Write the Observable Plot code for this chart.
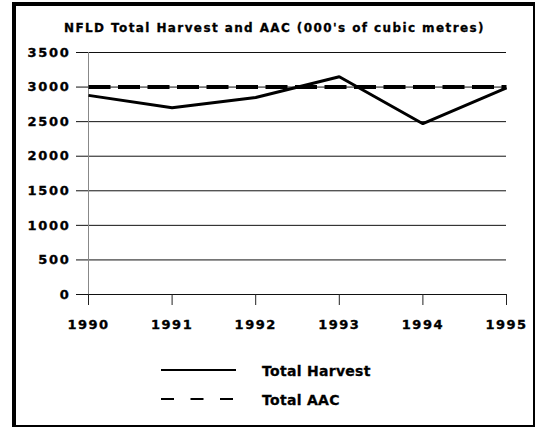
<!DOCTYPE html>
<html>
<head>
<meta charset="utf-8">
<script src="https://cdn.jsdelivr.net/npm/d3@7"></script>
<script src="https://cdn.jsdelivr.net/npm/@observablehq/plot@0.6"></script>
<style>
  html, body { margin: 0; padding: 0; background: #fff; }
  #wrap { position: relative; width: 536px; height: 427px; overflow: hidden; font-family: "DejaVu Sans", sans-serif; font-weight: bold; }
  #frame { position: absolute; left: 12px; top: 2px; width: 523px; height: 425px; box-sizing: border-box;
           border-left: 4px solid #000; border-top: 4px solid #000; border-right: 2px solid #000; border-bottom: 2px solid #000; pointer-events: none; z-index: 5; }
  #title { position: absolute; left: 64px; top: 22px; font-size: 12px; line-height: 13px; letter-spacing: 1.4px; white-space: nowrap; color: #000; -webkit-text-stroke: 0.3px #000; }
  #chart { position: absolute; left: 0; top: 0; }
  #legend { position: absolute; left: 0; top: 0; }
  g[aria-label="y-axis tick label"] text { letter-spacing: 1.7px; stroke: #000; stroke-width: 0.35px; }
  g[aria-label="x-axis tick label"] text { letter-spacing: 1.5px; stroke: #000; stroke-width: 0.35px; }
  #legend text { stroke: #000; stroke-width: 0.3px; }
</style>
</head>
<body>
<div id="wrap">
  <div id="chart"></div>
  <div id="title">NFLD Total Harvest and AAC (000's of cubic metres)</div>
  <svg id="legend" width="536" height="427"></svg>
  <div id="frame"></div>
</div>
<script>
const years = [1990, 1991, 1992, 1993, 1994, 1995];
const totalHarvest = [2880, 2700, 2850, 3150, 2470, 2990];
const totalAAC = [3000, 3000, 3000, 3000, 3000, 3000];
const yTicks = [0, 500, 1000, 1500, 2000, 2500, 3000, 3500];
const seriesNames = ["Total Harvest", "Total AAC"];

const harvestData = years.map((y, i) => ({year: y, value: totalHarvest[i]}));
const aacData = years.map((y, i) => ({year: y, value: totalAAC[i]}));

const chart = Plot.plot({
  width: 536,
  height: 345,
  marginLeft: 88,
  marginRight: 30,
  marginTop: 52,
  marginBottom: 51,
  style: {background: "transparent", fontFamily: "'DejaVu Sans', sans-serif", fontWeight: "bold", overflow: "visible"},
  x: {domain: [years[0], years[years.length - 1]]},
  y: {domain: [yTicks[0], yTicks[yTicks.length - 1]]},
  marks: [
    Plot.ruleY(yTicks, {stroke: "#111", strokeWidth: 1}),
    Plot.ruleX([years[0]], {stroke: "#888", strokeWidth: 1}),
    Plot.axisY(yTicks, {tickSize: 12, tickPadding: 6, fontSize: 13, stroke: "#111", fill: "#000", tickFormat: d => String(d), label: null}),
    Plot.axisX(years, {tickSize: 11, tickPadding: 14, fontSize: 13, stroke: "#222", fill: "#000", tickFormat: d => String(d), label: null}),
    Plot.line(aacData, {x: "year", y: "value", stroke: "#000", strokeWidth: 4, strokeDasharray: "22,7.5", strokeLinecap: "butt"}),
    Plot.line(harvestData, {x: "year", y: "value", stroke: "#000", strokeWidth: 3, strokeLinejoin: "miter", strokeLinecap: "butt"})
  ]
});
document.getElementById("chart").appendChild(chart);

// Legend
const lg = d3.select("#legend");
const legendItems = [
  {name: seriesNames[0], y: 370, dash: null, w: 2},
  {name: seriesNames[1], y: 399, dash: "13,16.5", w: 2}
];
legendItems.forEach(it => {
  lg.append("line").attr("x1", 161).attr("x2", 236).attr("y1", it.y).attr("y2", it.y)
    .attr("stroke", "#000").attr("stroke-width", it.w).attr("stroke-dasharray", it.dash);
  lg.append("text").attr("x", 262).attr("y", it.y + 6)
    .attr("font-family", "'DejaVu Sans', sans-serif").attr("font-weight", "bold")
    .attr("font-size", 14).attr("letter-spacing", "0.3px").attr("fill", "#000").text(it.name);
});
</script>
</body>
</html>
